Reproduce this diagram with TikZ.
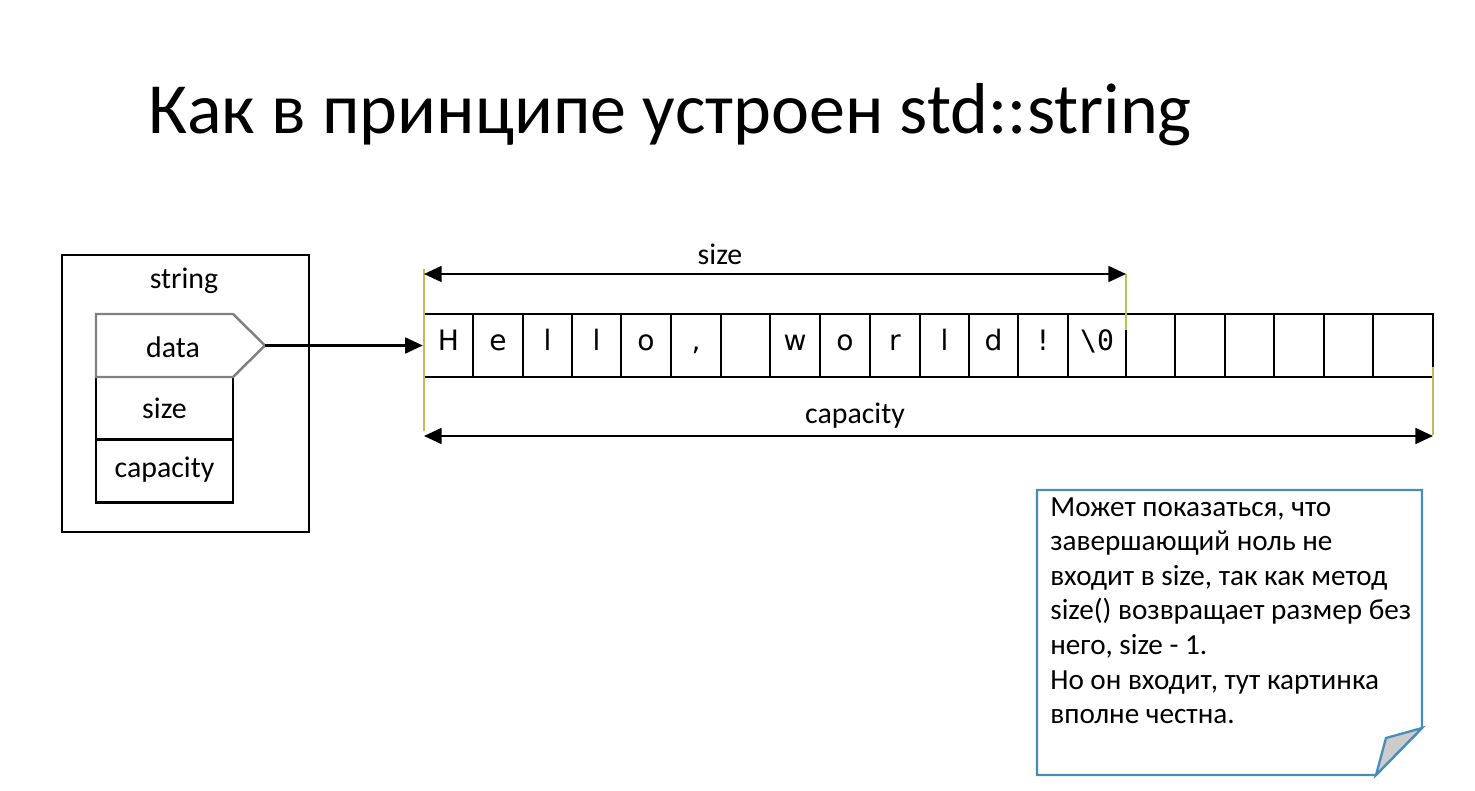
\documentclass[tikz,border=0pt]{standalone}
\usepackage{fontspec}
\setmainfont{Carlito}
\newfontfamily\cellfont{DejaVu Sans}
\newfontfamily\monofont{DejaVu Sans Mono}
\usetikzlibrary{arrows.meta}

\definecolor{guidegreen}{RGB}{184,192,90}
\definecolor{noteblue}{RGB}{72,140,188}
\definecolor{foldgray}{RGB}{204,204,204}

\tikzset{
  labelfont/.style={font=\fontsize{17}{20}\selectfont},
  field/.style={draw, line width=1.4pt, minimum width=2.74cm, minimum height=1.26cm,
    inner sep=0pt, labelfont},
  cell/.style={draw, line width=1.4pt, minimum height=1.26cm, inner sep=0pt,
    text height=0.75em, text depth=0.2em, font=\cellfont\fontsize{16}{18}\selectfont},
  dimline/.style={<->, line width=1.3pt},
  guide/.style={guidegreen, line width=0.9pt},
}

\begin{document}
\begin{tikzpicture}[x=0.02cm, y=-0.02cm, >={Triangle[length=10pt,width=9pt]}]
\useasboundingbox (0,0) rectangle (1475,791);

%------------------ TITLE ------------------%
\node[anchor=base west, inner sep=0pt, font=\fontsize{41}{48}\selectfont]
  (title) at (148,133) {Как в принципе устроен std::string};

%------------------ STRING OBJECT ------------------%
\node[draw, line width=1.4pt, minimum width=4.94cm, minimum height=5.54cm, inner sep=0pt]
  (strobj) at (185.5,393.5) {};
\node[labelfont] (strname) at (184,281) {string};

\node[field] (size) at (164.5,408.5) {size};
\node[field, text height=0.9em, text depth=0.2em] (capacity) at (164.5,471) {capacity};

\draw[gray, line width=1.4pt, fill=white]
  (96,377) -- (96,314) -- (233,314) -- (265,345.5) -- (233,377) -- cycle;
\node[labelfont] (data) at (173,347) {data};
\coordinate (datatip) at (265,345.5);

%------------------ BUFFER ------------------%
\foreach \i/\l/\r/\t in {1/424/473/H, 2/473/523/e, 3/523/572/l, 4/572/621/l,
    5/621/671/o, 6/671/721/{,}, 7/721/770/{}, 8/770/820/w, 9/820/870/o,
    10/870/920/r, 11/920/969/l, 12/969/1018/d, 13/1018/1068/!,
    14/1068/1126/{\monofont\textbackslash0}, 15/1126/1175/{}, 16/1175/1225/{},
    17/1225/1274/{}, 18/1274/1324/{}, 19/1324/1373/{}, 20/1373/1433/{}}
  \node[cell, minimum width={(\r-\l)*0.02cm}] (c\i) at ({(\l+\r)/2},345.5) {\t};

\draw[->, line width=1.3pt] (datatip) -- (c1.west);

% guide lines
\coordinate (sizeL) at (424,274);
\coordinate (sizeR) at (1126,274);
\coordinate (capL) at (424,436);
\coordinate (capR) at (1433,436);
\draw[guide] (424,269) -- (424,431);
\draw[guide] (1126,274) -- (1126,330);
\draw[guide] (1433,367) -- (1433,435);

\draw[dimline] (sizeL) -- (sizeR);
\node[labelfont] (sizelbl) at (720,254) {size};
\draw[dimline] (capL) -- (capR);
\node[labelfont] (caplbl) at (855,416) {capacity};

%------------------ NOTE ------------------%
\draw[noteblue, line width=1.3pt, fill=white]
  (1037,490) -- (1422,490) -- (1422,728) -- (1376,775) -- (1037,775) -- cycle;
\draw[noteblue, line width=1.3pt, fill=foldgray]
  (1376,775) -- (1386,738) -- (1422,728) -- cycle;
\node[anchor=north west, inner sep=0pt, align=left, font=\fontsize{16.6}{19.7}\selectfont]
  (note) at (1050,497)
  {Может показаться, что\\
   завершающий ноль не\\
   входит в size, так как метод\\
   size() возвращает размер без\\
   него, size - 1.\\
   Но он входит, тут картинка\\
   вполне честна.};

\end{tikzpicture}
\end{document}
